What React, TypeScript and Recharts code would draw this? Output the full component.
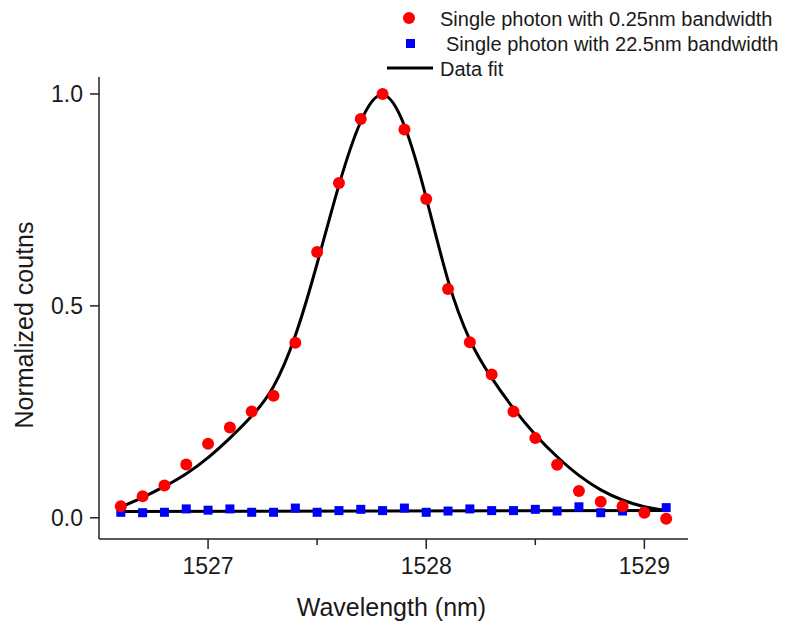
import React from 'react';
import { ComposedChart, Line, Scatter, XAxis, YAxis, Label } from 'recharts';

// measured points, 0.1 nm step
const wavelengths = [
  1526.6, 1526.7, 1526.8, 1526.9, 1527.0, 1527.1, 1527.2, 1527.3, 1527.4, 1527.5,
  1527.6, 1527.7, 1527.8, 1527.9, 1528.0, 1528.1, 1528.2, 1528.3, 1528.4, 1528.5,
  1528.6, 1528.7, 1528.8, 1528.9, 1529.0, 1529.1,
];
const narrowCounts = [
  0.027, 0.051, 0.076, 0.126, 0.175, 0.213, 0.251, 0.288, 0.413, 0.627,
  0.79, 0.941, 1.0, 0.916, 0.752, 0.54, 0.414, 0.338, 0.251, 0.188,
  0.125, 0.063, 0.038, 0.027, 0.012, -0.002,
];
const wideCounts = [
  0.013, 0.012, 0.013, 0.021, 0.018, 0.021, 0.013, 0.013, 0.023, 0.013,
  0.017, 0.02, 0.017, 0.023, 0.013, 0.016, 0.021, 0.017, 0.017, 0.02,
  0.016, 0.026, 0.012, 0.016, 0.013, 0.024,
];

// fit curves
const fitWavelengths = [
  1526.6, 1526.7, 1526.8, 1526.9, 1527.0, 1527.1, 1527.2, 1527.3, 1527.4, 1527.5,
  1527.6, 1527.7, 1527.8, 1527.9, 1528.0, 1528.1, 1528.2, 1528.3,
  1528.4, 1528.5, 1528.6, 1528.7, 1528.8, 1528.9, 1529.0, 1529.1,
];
const fitNarrow = [
  0.025, 0.048, 0.074, 0.104, 0.142, 0.188, 0.24, 0.31, 0.43, 0.6,
  0.785, 0.935, 0.998, 0.925, 0.755, 0.56, 0.42, 0.33,
  0.258, 0.196, 0.144, 0.1, 0.066, 0.042, 0.026, 0.017,
];
const flatWavelengths = [1526.6, 1529.1];
const fitWide = [0.015, 0.017];

const xTicks = [1527, 1527.5, 1528, 1528.5, 1529];
const yTicks = [0, 0.5, 1.0];

const narrowData = wavelengths.map((x, i) => ({ x, y: narrowCounts[i] }));
const wideData = wavelengths.map((x, i) => ({ x, y: wideCounts[i] }));
const fitNarrowData = fitWavelengths.map((x, i) => ({ x, y: fitNarrow[i] }));
const fitWideData = flatWavelengths.map((x, i) => ({ x, y: fitWide[i] }));

const FONT = '"Liberation Sans", Arial, Helvetica, sans-serif';
const INK = '#1a1a1a';
const AXIS = '#222';

function XTick(props: any) {
  const { x, y, payload } = props;
  const major = Number.isInteger(payload.value);
  return (
    <g>
      <line x1={x} x2={x} y1={y} y2={y + (major ? 10 : 6)} stroke={AXIS} strokeWidth={1.5} />
      {major && (
        <text x={x} y={y + 35} textAnchor="middle" fontSize={23} fill={INK}>
          {payload.value}
        </text>
      )}
    </g>
  );
}

function YTick(props: any) {
  const { x, y, payload } = props;
  return (
    <g>
      <line x1={x - 9} x2={x} y1={y} y2={y} stroke={AXIS} strokeWidth={1.5} />
      <text x={x - 16} y={y + 8} textAnchor="end" fontSize={23} fill={INK}>
        {Number(payload.value).toFixed(1)}
      </text>
    </g>
  );
}

const RedDot = (props: any) => <circle cx={props.cx} cy={props.cy} r={6} fill="#ff0000" />;
const BlueSquare = (props: any) => (
  <rect x={props.cx - 4.5} y={props.cy - 4.5} width={9} height={9} fill="#0000ff" />
);

function Legendbox() {
  return (
    <svg width={410} height={85} style={{ position: 'absolute', left: 380, top: 0 }}>
      <circle cx={29} cy={18} r={6} fill="#ff0000" />
      <text x={60} y={26} fontSize={20} fill={INK}>Single photon with 0.25nm bandwidth</text>
      <rect x={26} y={39} width={9} height={9} fill="#0000ff" />
      <text x={66} y={51} fontSize={20} fill={INK}>Single photon with 22.5nm bandwidth</text>
      <line x1={7} x2={53} y1={68} y2={68} stroke="#000" strokeWidth={3} />
      <text x={60} y={76} fontSize={20} fill={INK}>Data fit</text>
    </svg>
  );
}

export default function App() {
  return (
    <div
      style={{
        position: 'absolute', left: 0, top: 0, width: 792, height: 626,
        background: '#fff', fontFamily: FONT,
      }}
    >
      <ComposedChart width={792} height={626} margin={{ top: 77, right: 104, bottom: 0, left: 0 }}>
        <XAxis
          dataKey="x"
          type="number"
          domain={[1526.5, 1529.2]}
          allowDataOverflow
          ticks={xTicks}
          interval={0}
          height={87}
          tickSize={0}
          tickMargin={0}
          tick={<XTick />}
          axisLine={{ stroke: AXIS, strokeWidth: 1.5 }}
        >
          <Label
            content={(p: any) => {
              const vb = p.viewBox ?? { x: 99, y: 539, width: 589, height: 87 };
              const cx = vb.x + vb.width / 2 - 2;
              return (
                <text x={cx} y={vb.y + 77} textAnchor="middle" fontSize={25} fill={INK}>
                  Wavelength (nm)
                </text>
              );
            }}
          />
        </XAxis>
        <YAxis
          dataKey="y"
          type="number"
          domain={[-0.05, 1.04]}
          allowDataOverflow
          ticks={yTicks}
          interval={0}
          width={99}
          tickSize={0}
          tickMargin={0}
          tick={<YTick />}
          axisLine={{ stroke: AXIS, strokeWidth: 1.5 }}
        >
          <Label
            content={(p: any) => {
              const vb = p.viewBox ?? { x: 0, y: 77, width: 99, height: 462 };
              const cx = vb.x + 33;
              const cy = vb.y + vb.height / 2 + 17;
              return (
                <text
                  x={cx}
                  y={cy}
                  transform={`rotate(-90 ${cx} ${cy})`}
                  textAnchor="middle"
                  fontSize={25}
                  fill={INK}
                >
                  Normalized coutns
                </text>
              );
            }}
          />
        </YAxis>
        <Scatter data={wideData} dataKey="y" shape={BlueSquare} isAnimationActive={false} />
        <Line
          data={fitWideData}
          dataKey="y"
          type="linear"
          stroke="#000"
          strokeWidth={3}
          dot={false}
          activeDot={false}
          isAnimationActive={false}
        />
        <Line
          data={fitNarrowData}
          dataKey="y"
          type="natural"
          stroke="#000"
          strokeWidth={3}
          dot={false}
          activeDot={false}
          isAnimationActive={false}
        />
        <Scatter data={narrowData} dataKey="y" shape={RedDot} isAnimationActive={false} />
      </ComposedChart>
      <Legendbox />
    </div>
  );
}
